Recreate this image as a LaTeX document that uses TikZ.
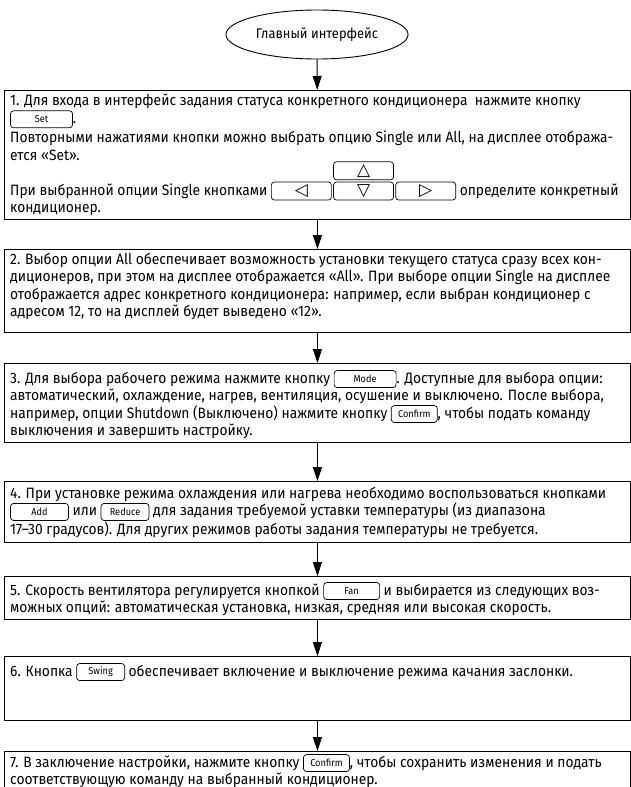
\documentclass[tikz,border=0pt]{standalone}
\usepackage{fontspec}
\setmainfont{Fira Sans}[FakeStretch=0.92]
\newfontfamily\symfont{DejaVu Sans}
\usetikzlibrary{shapes.geometric, arrows.meta, positioning}
\tikzset{
    knopka/.style={draw, rounded corners=3pt, line width=0.7pt, inner sep=0pt, minimum height=17pt, font=\fontsize{10}{10}\selectfont},
    strkn/.style={knopka, minimum width=60pt, minimum height=18pt, font=\symfont\fontsize{17}{17}\selectfont},
    ramka/.style={draw, line width=0.9pt, inner sep=0pt, anchor=north west, minimum width=626pt},
    tekst/.style={anchor=north west, inner sep=0pt, align=left, font=\fontsize{15}{17.5}\selectfont},
    strelka/.style={-{Triangle[width=9pt,length=14pt]}, line width=0.9pt}
}
\newcommand{\knopka}[2]{\tikz[baseline={([yshift=-4pt]kn.center)}]\node[knopka, minimum width=#2] (kn) {#1};}
\newcommand{\strelki}{\tikz[baseline={([yshift=-4pt]vniz.center)}]{
    \node[strkn] (vniz) {▽};
    \node[strkn, above=1.5pt of vniz] (vverh) {△};
    \node[strkn, left=1.5pt of vniz] (vlevo) {◁};
    \node[strkn, right=1.5pt of vniz] (vpravo) {▷};
}}

\begin{document}
\begin{tikzpicture}[x=1pt, y=-1pt]
    \useasboundingbox (0,0) rectangle (631,787);
    \node[draw, ellipse, line width=0.9pt, minimum width=173pt, minimum height=49pt, font=\fontsize{14}{16}\selectfont] (glavn) at (317,34.5) {Главный интерфейс};

    \node[ramka, minimum height=129pt] (r1) at (4,90) {};
    \node[ramka, minimum height=83pt] (r2) at (4,249) {};
    \node[ramka, minimum height=79pt] (r3) at (4,363) {};
    \node[ramka, minimum height=61pt] (r4) at (4,481) {};
    \node[ramka, minimum height=43pt] (r5) at (4,576) {};
    \node[ramka, minimum height=64pt] (r6) at (4,656) {};
    \node[ramka, minimum height=60pt] (r7) at (4,751) {};

    \node[tekst] (t1) at (10,94) {1. Для входа в интерфейс задания статуса конкретного кондиционера~ нажмите кнопку\\
        \knopka{Set}{62pt}.\\[2pt]
        Повторными нажатиями кнопки можно выбрать опцию Single или All, на дисплее отобража-\\
        ется «Set».\\
        При выбранной опции Single кнопками \strelki{} определите конкретный\\
        кондиционер.};
    \node[tekst] (t2) at (10,253) {2. Выбор опции All обеспечивает возможность установки текущего статуса сразу всех кон-\\
        диционеров, при этом на дисплее отображается «All». При выборе опции Single на дисплее\\
        отображается адрес конкретного кондиционера: например, если выбран кондиционер с\\
        адресом 12, то на дисплей будет выведено «12».};
    \node[tekst] (t3) at (10,370) {3. Для выбора рабочего режима нажмите кнопку \knopka{Mode}{62pt}. Доступные для выбора опции:\\
        автоматический, охлаждение, нагрев, вентиляция, осушение и выключено. После выбора,\\
        например, опции Shutdown (Выключено) нажмите кнопку \knopka{Confirm}{46pt}, чтобы подать команду\\
        выключения и завершить настройку.};
    \node[tekst] (t4) at (10,487) {4. При установке режима охлаждения или нагрева необходимо воспользоваться кнопками\\
        \knopka{Add}{58pt} или \knopka{Reduce}{48pt} для задания требуемой уставки температуры (из диапазона\\
        17–30 градусов). Для других режимов работы задания температуры не требуется.};
    \node[tekst] (t5) at (10,582) {5. Скорость вентилятора регулируется кнопкой \knopka{Fan}{56pt} и выбирается из следующих воз-\\
        можных опций: автоматическая установка, низкая, средняя или высокая скорость.};
    \node[tekst] (t6) at (10,663) {6. Кнопка \knopka{Swing}{48pt} обеспечивает включение и выключение режима качания заслонки.};
    \node[tekst] (t7) at (10,754) {7. В заключение настройки, нажмите кнопку \knopka{Confirm}{46pt}, чтобы сохранить изменения и подать\\
        соответствующую команду на выбранный кондиционер.};

    \draw[strelka] (glavn) -- (r1);
    \draw[strelka] (r1) -- (r2);
    \draw[strelka] (r2) -- (r3);
    \draw[strelka] (r3) -- (r4);
    \draw[strelka] (r4) -- (r5);
    \draw[strelka] (r5) -- (r6);
    \draw[strelka] (r6) -- (r7);
\end{tikzpicture}
\end{document}
